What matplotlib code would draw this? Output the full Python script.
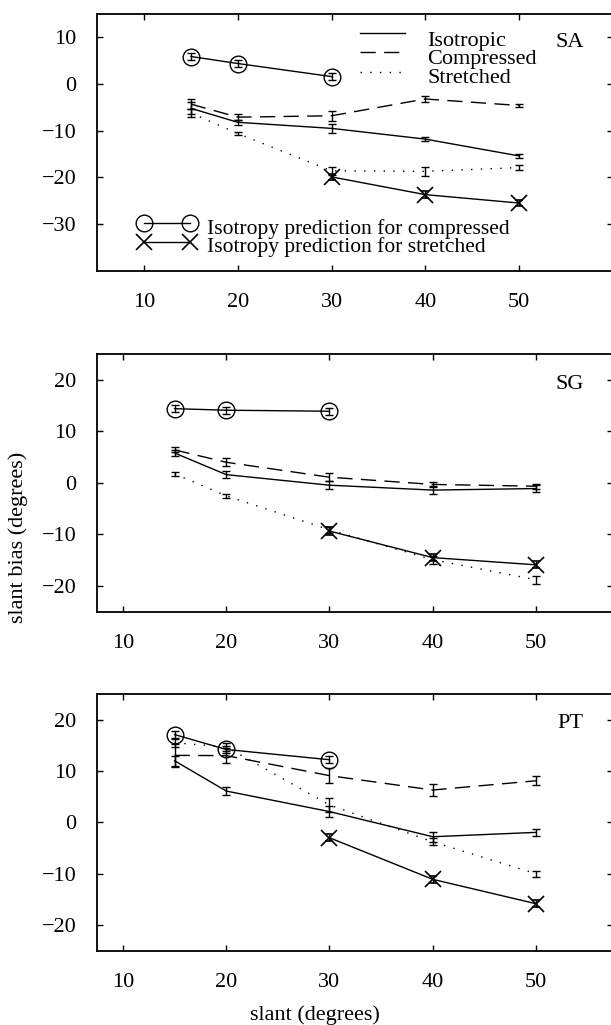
import numpy as np
import matplotlib.pyplot as plt

plt.rcParams['font.family'] = ['Liberation Serif', 'DejaVu Serif']
plt.rcParams['font.size'] = 16

# slant values (degrees)
slant = [15, 20, 30, 40, 50]
slant_pred_c = [15, 20, 30]
slant_pred_s = [30, 40, 50]

# --- SA ---
sa_iso = [-5.2, -8.2, -9.5, -11.8, -15.4]
sa_iso_err = [1.3, 0.6, 0.9, 0.5, 0.5]
sa_comp = [-4.3, -7.1, -6.8, -3.2, -4.6]
sa_comp_err = [1.0, 0.7, 1.1, 0.6, 0.4]
sa_str = [-6.2, -10.6, -18.6, -18.7, -17.9]
sa_str_err = [0.8, 0.4, 0.9, 0.9, 0.6]
sa_pred_c = [5.9, 4.4, 1.6]
sa_pred_s = [-19.9, -23.7, -25.5]

# --- SG ---
sg_iso = [5.8, 1.6, -0.45, -1.4, -1.1]
sg_iso_err = [0.6, 0.7, 0.8, 0.8, 0.7]
sg_comp = [6.4, 4.0, 1.1, -0.3, -0.65]
sg_comp_err = [0.5, 0.8, 0.8, 0.5, 0.5]
sg_str = [1.75, -2.5, -9.1, -14.9, -18.8]
sg_str_err = [0.4, 0.4, 0.6, 0.8, 0.8]
sg_pred_c = [14.4, 14.1, 13.9]
sg_pred_s = [-9.35, -14.5, -15.9]

# --- PT ---
pt_iso = [12.0, 6.1, 2.1, -2.8, -1.95]
pt_iso_err = [1.0, 0.7, 1.0, 1.0, 0.7]
pt_comp = [13.05, 13.0, 9.1, 6.3, 8.1]
pt_comp_err = [2.2, 1.5, 1.5, 1.2, 0.9]
pt_str = [15.5, 14.7, 3.4, -3.8, -10.0]
pt_str_err = [0.8, 0.8, 1.3, 0.7, 0.6]
pt_pred_c = [17.1, 14.2, 12.2]
pt_pred_s = [-3.0, -11.1, -15.85]

pred_err = 0.7

panels = [
    dict(name='SA', iso=sa_iso, iso_e=sa_iso_err, comp=sa_comp, comp_e=sa_comp_err,
         st=sa_str, st_e=sa_str_err, pc=sa_pred_c, ps=sa_pred_s,
         pos=[0.159, 0.7359, 0.844, 0.2504], xlim=(5, 60), ylim=(-40, 15),
         yticks=[-30, -20, -10, 0, 10], lab=(55.4, 8.8)),
    dict(name='SG', iso=sg_iso, iso_e=sg_iso_err, comp=sg_comp, comp_e=sg_comp_err,
         st=sg_str, st_e=sg_str_err, pc=sg_pred_c, ps=sg_pred_s,
         pos=[0.159, 0.4032, 0.845, 0.2514], xlim=(7.5, 57.5), ylim=(-25, 25),
         yticks=[-20, -10, 0, 10, 20], lab=(53.3, 19.0)),
    dict(name='PT', iso=pt_iso, iso_e=pt_iso_err, comp=pt_comp, comp_e=pt_comp_err,
         st=pt_str, st_e=pt_str_err, pc=pt_pred_c, ps=pt_pred_s,
         pos=[0.159, 0.0725, 0.845, 0.2504], xlim=(7.5, 57.5), ylim=(-25, 25),
         yticks=[-20, -10, 0, 10, 20], lab=(53.3, 19.3)),
]

fig = plt.figure(figsize=(6.11, 10.25), dpi=100)

lw = 1.0
eb = dict(capsize=2.8, elinewidth=lw, capthick=lw, color='black')
dash = (11, 6)
dot = (1, 6)

for p in panels:
    ax = fig.add_axes(p['pos'])
    ax.errorbar(slant, p['iso'], yerr=p['iso_e'], lw=lw, **eb)
    ax.errorbar(slant, p['comp'], yerr=p['comp_e'], lw=lw, dashes=dash, **eb)
    ax.errorbar(slant, p['st'], yerr=p['st_e'], lw=lw, dashes=dot, **eb)
    ax.errorbar(slant_pred_c, p['pc'], yerr=pred_err, lw=lw, marker='o', ms=12,
                mfc='none', mec='black', mew=1.0, **eb)
    ax.errorbar(slant_pred_s, p['ps'], yerr=pred_err, lw=lw, marker='x', ms=12,
                mec='black', mew=1.2, **eb)

    ax.set_xlim(*p['xlim'])
    ax.set_ylim(*p['ylim'])
    ax.set_xticks([10, 20, 30, 40, 50])
    ax.set_yticks(p['yticks'])
    ax.tick_params(direction='in', top=True, right=True, length=4, width=1, pad=15,
                   labelsize=16)
    ax.tick_params(axis='x', pad=16)
    for s in ax.spines.values():
        s.set_linewidth(1.3)
    ax.text(p['lab'][0], p['lab'][1], p['name'], ha='center', va='center', fontsize=16)

    if p['name'] == 'SA':
        # line-style key
        keys = [(None, 0.925), (dash, 0.851), (dot, 0.775)]
        for d, yy in keys:
            l, = ax.plot([0.509, 0.597], [yy, yy], color='black', lw=lw, transform=ax.transAxes)
            if d is not None:
                l.set_dashes(d)
        ax.text(0.640, 0.822, 'Isotropic\nCompressed\nStretched', transform=ax.transAxes,
                ha='left', va='center', fontsize=16, linespacing=0.95)
        # prediction key
        ax.plot([0.0906, 0.181], [0.186, 0.186], color='black', lw=lw, marker='o', ms=12,
                mfc='none', mec='black', mew=1.0, transform=ax.transAxes, clip_on=False)
        ax.plot([0.0906, 0.181], [0.112, 0.112], color='black', lw=lw, marker='x', ms=12,
                mec='black', mew=1.2, transform=ax.transAxes, clip_on=False)
        ax.text(0.2133, 0.128, 'Isotropy prediction for compressed\nIsotropy prediction for stretched',
                transform=ax.transAxes, ha='left', va='center', fontsize=15.5, linespacing=0.88)

fig.text(18 / 611, 1 - 537 / 1025, 'slant bias (degrees)', rotation=90,
         ha='center', va='center', fontsize=16)
fig.text(315 / 611, 1 - 1015 / 1025, 'slant (degrees)', ha='center', va='center', fontsize=16)

fig.savefig('out.png', dpi=100)
